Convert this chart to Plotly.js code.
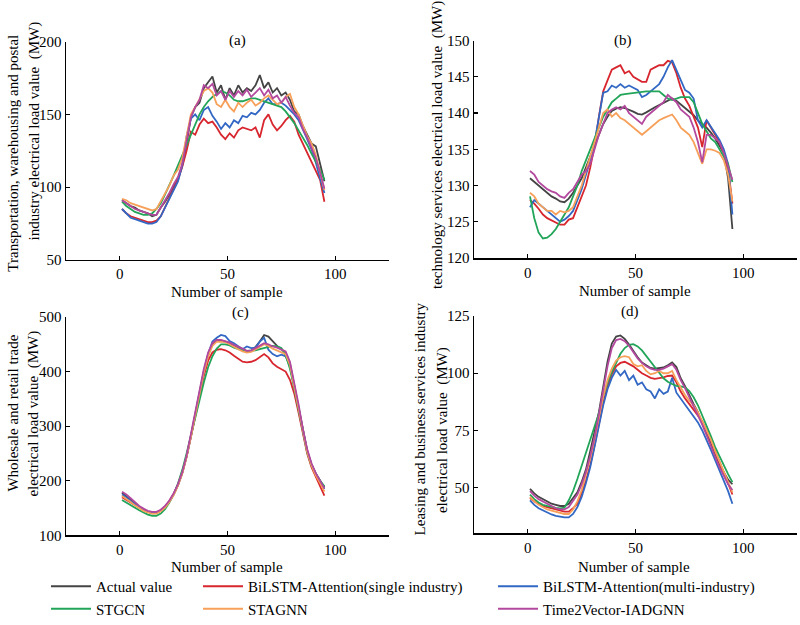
<!DOCTYPE html>
<html>
<head>
<meta charset="utf-8">
<script src="https://cdn.plot.ly/plotly-3.0.1.min.js"></script>
<style>html,body{margin:0;padding:0;background:#fff;}#chart{width:800px;height:625px;}</style>
</head>
<body>
<div id="chart"></div>
<script>
// ---------- data ----------
const samples = [1,3,5,7,9,11,13,15,17,19,21,23,25,27,29,31,33,35,37,39,41,43,45,47,49,51,53,55,57,59,61,63,65,67,69,71,73,75,77,79,81,83,85,87,89,91,93,95];

const seriesNames = ['Actual value','BiLSTM-Attention(single industry)','BiLSTM-Attention(multi-industry)','STGCN','STAGNN','Time2Vector-IADGNN'];

const panelLabels = ['(a)','(b)','(c)','(d)'];
const xTicks = [0,50,100];
const yTicksA = [50,100,150,200];
const yTicksB = [120,125,130,135,140,145,150];
const yTicksC = [100,200,300,400,500];
const yTicksD = [50,75,100,125];

// (a) Transportation, warehousing and postal
const a_actual = [91,89,87,86,84,83,82,80,81,86, 90,95,100,106,115,130,148,155,158,168, 172,176,165,170,160,168,163,170,165,168, 166,170,177,168,172,165,168,163,165,160, 152,150,142,136,130,128,115,104];
const a_single = [85,82,80,79,78,77,76,76,77,80, 86,92,98,105,114,125,138,136,143,147, 144,145,141,136,133,137,134,139,141,140, 139,141,134,146,150,143,139,142,146,149, 145,136,130,124,118,112,105,90];
const a_multi  = [85,82,79,78,77,76,75,75,76,80, 86,92,98,104,115,135,147,150,146,153, 155,149,145,140,144,141,146,144,149,148, 151,150,153,158,161,157,157,158,156,153, 150,146,140,133,126,117,106,96];
const a_stgcn  = [90,87,85,83,82,81,81,82,85,89, 95,101,108,115,122,130,137,144,150,155, 159,162,164,166,165,163,160,159,159,160, 161,161,160,159,158,157,156,155,152,148, 144,139,134,129,123,118,112,105];
const a_stagnn = [92,91,89,88,87,86,85,84,85,90, 95,101,108,112,120,135,150,155,160,166, 168,165,157,155,160,155,152,158,155,158, 160,156,158,161,163,160,157,158,162,164, 155,150,142,135,130,122,110,98];
const a_t2v    = [91,89,87,85,84,83,82,81,81,86, 90,96,102,107,116,133,148,155,160,170, 168,171,163,166,160,166,162,166,163,167, 162,165,168,163,167,161,163,158,162,156, 151,148,140,134,127,120,110,99];

// (b) technology services
const b_actual = [131,130.5,130,129.5,129,128.5,128.2,127.8,127.7,128.2, 129,130,131,132.5,134,135.5,137,138.5,139.5,140.3, 140.6,140.8,140.7,140.5,140.2,139.9,139.8,140.1,140.5,140.8, 141.1,141.4,141.8,142,141.7,141.2,140.7,140.2,139.7,139, 138.5,138,137.3,136.5,135.5,134.5,131,124];
const b_single = [128,127.5,126.8,126,125.5,125.2,124.8,124.6,124.6,125.3, 125.5,127,128.3,130,132.5,135.5,139.5,143,144.5,146, 146.3,146.6,145.5,145.8,145,144.7,144.3,144.3,146,146.3, 146.6,146.6,147.2,147,145.5,143.5,142,141,139.5,138, 135.3,139,138,137,136,134.5,132.5,127.5];
const b_multi  = [127,128,127.5,127,126.5,126,125.5,125,125.3,125.8, 126.5,128,129.5,131.5,133.5,136,139.5,142.8,143,143.8, 143.5,144,143.5,143.8,143.5,143.2,142.2,142.5,143,143.5, 144,145,146.3,147.3,146,144.5,143.2,142.8,142,139, 138,139,138,137.2,136.3,135,133,126];
const b_stgcn  = [128.5,125.5,123.5,122.7,122.8,123.3,124,125,126,127, 128.5,130,132,133.5,135,136.5,138,139.5,140.5,141.5, 142,142.5,142.6,142.7,142.8,142.9,143,143,143,143, 143,142.5,142,141.8,142,142.2,142.2,142.2,141.5,140, 138.5,137.5,136.5,136,135,134,133,130.5];
const b_stagnn = [129,128.5,127.5,127,126.5,126.5,126,126.5,126.3,126.5, 127,128.5,130,132,134,136,138,140,140.5,139.5, 140,139.3,139,138.5,138,137.5,137,137.5,138,138.5, 139,139.3,139.5,139.8,139,138,137.5,137,136,134.5, 133,135,135,134.8,134.5,133.5,131.5,127.8];
const b_t2v    = [132,131.5,130.5,130,129.5,129.2,129,128.5,128.3,129, 129.5,130.5,131.5,132,133,135,137,138.5,140,140.5, 140.8,140.5,141,140,139.5,139,138.5,139.5,140,140.5, 141,141.5,142.5,142,141.5,140.5,140,139.5,138,136, 133.2,137,137,136.5,136,134.5,132.5,130.8];

// (c) Wholesale and retail trade
const c_actual = [178,172,165,158,152,147,143,141,141,145, 152,162,175,192,215,245,282,322,360,400, 430,450,458,457,455,452,448,444,440,437, 438,445,455,467,464,455,447,441,435,415, 375,335,290,255,230,213,200,188];
const c_single = [170,165,160,155,150,146,143,141,142,146, 153,163,176,193,215,244,280,318,355,392, 420,435,440,441,439,435,429,423,418,417, 418,421,427,432,426,415,409,405,400,385, 360,325,285,250,225,207,192,173];
const c_multi  = [175,170,163,157,151,146,143,141,141,145, 152,162,175,192,214,244,281,320,360,400, 432,455,462,467,465,456,452,446,441,446, 443,444,455,462,440,432,428,431,428,410, 372,332,290,255,230,213,200,185];
const c_stgcn  = [165,160,155,150,146,142,138,136,136,140, 148,160,175,195,220,250,283,318,350,380, 408,428,442,450,450,448,444,441,439,438, 438,439,441,443,445,447,446,443,430,405, 370,330,288,252,228,212,200,190];
const c_stagnn = [172,167,161,155,150,145,142,140,140,144, 151,161,174,191,213,243,280,320,360,398, 428,447,455,455,454,450,445,441,437,435, 436,440,445,450,447,442,439,436,432,412, 372,333,290,253,228,210,196,180];
const c_t2v    = [180,175,168,161,154,149,145,143,143,147, 154,164,177,194,216,246,284,325,365,405, 435,452,458,458,456,453,449,446,442,438, 439,443,447,452,450,446,444,441,437,418, 380,340,295,258,232,214,200,186];

// (d) Leasing and business services
const d_actual = [49.5,47.5,46,45,44,43,42.5,42,42,43, 45.5,48,52.5,58,66,74,83,94,105,113, 116,116.5,115,112.5,109.5,107,104.7,103.3,102.3,102, 102.2,102.5,103.5,104.7,102.7,97.8,94.3,90,86.5,83, 78,74,69,64.5,60,56.5,53.5,51.5];
const d_single = [45.5,44,43,42,41.5,41,40.5,40,39.5,39.5, 41,43,47.5,53,60,68.5,78,87,94,99.5, 103,104.5,105,104,103,101.5,100,99,98,97.5, 97.8,98.2,98.8,99,96,92,89,86.5,84.5,82, 79,75,71,66,61.5,57,52,47];
const d_multi  = [44.5,42.5,41,40,39,38.3,37.7,37.2,37,37, 38.5,41.5,46,52,59,68,77.5,86,93,98, 101.5,99,101,97,99,95,96,93,92,89, 93,91,92,98,91.5,89,86.5,84,81.5,78.5, 75,71,66.5,62,57.5,53,48.5,43];
const d_stgcn  = [47,45,43.5,42.5,42,41.5,41.2,41,41.3,44.5, 48.5,53.8,59.5,65,70.5,76,82.5,90,96,100.5, 104.7,108.5,111,112.4,112.7,111.7,110,107.5,104.7,102.3, 100.2,97.8,96.3,95.3,94.5,94.3,93.8,92.2,89.5,86, 81.7,77,72.5,67.7,63.5,59.5,55.9,52.4];
const d_stagnn = [46,44,42.5,41.5,40.5,40,39.5,39,38.5,38.5, 40.5,44,49,56,63,71.5,81,90,97,102, 105.5,107,107.5,107,104,103,103.5,101,99.5,100, 101,100,100,101,97,93.5,90.5,88,86,83, 79,75,71,66,61.5,57,52,48];
const d_t2v    = [48.5,46.5,45,44,43,42,41,40.5,40.5,41.5, 44,47,51.5,57,64,72,82,92,103,111, 114.5,115,114,112,109,106.5,104.5,103,102,101.5, 101.5,102,103,104,101.5,97,93.5,89.5,86,82, 77.5,73,68,63.5,59,55,51.5,49];

// ---------- styling ----------
const FONT = 'Liberation Serif, Times New Roman, serif';
const colors = ['#444444','#d7262e','#3268c4','#22a559','#f7a05a','#b3499e'];
const legendOf = ['legend','legend2','legend3','legend','legend2','legend3'];

const panels = [
  {xa:'x',  ya:'y',  data:[a_actual,a_single,a_multi,a_stgcn,a_stagnn,a_t2v]},
  {xa:'x2', ya:'y2', data:[b_actual,b_single,b_multi,b_stgcn,b_stagnn,b_t2v]},
  {xa:'x3', ya:'y3', data:[c_actual,c_single,c_multi,c_stgcn,c_stagnn,c_t2v]},
  {xa:'x4', ya:'y4', data:[d_actual,d_single,d_multi,d_stgcn,d_stagnn,d_t2v]}
];

const traces = [];
panels.forEach((p, pi) => {
  p.data.forEach((vals, si) => {
    traces.push({
      type:'scatter', mode:'lines', x: samples, y: vals,
      xaxis:p.xa, yaxis:p.ya, name: seriesNames[si],
      line:{color:colors[si], width:1.8},
      showlegend: pi === 0, legend: legendOf[si], hoverinfo:'skip'
    });
  });
});

const W = 800, H = 625;
function xd(l, r){ return [l/W, r/W]; }
function yd(t, b){ return [1 - b/H, 1 - t/H]; }

const axBase = {
  showline:true, linecolor:'#000', linewidth:1.5, ticks:'inside', ticklen:4,
  tickcolor:'#000', tickwidth:1.2, showgrid:false, zeroline:false, mirror:false,
  tickfont:{family:FONT, size:15, color:'#000'}, fixedrange:true
};
function xa(dom, anchor){ return Object.assign({}, axBase, {domain:dom, anchor:anchor, range:[-25,125], tickvals:xTicks, tickmode:'array'}); }
function ya(dom, anchor, range, ticks){ return Object.assign({}, axBase, {domain:dom, anchor:anchor, range:range, tickvals:ticks, tickmode:'array'}); }

function ann(text, x, y, opts){
  return Object.assign({text:text, x:x/W, y:1-y/H, xref:'paper', yref:'paper', showarrow:false,
    xanchor:'center', yanchor:'middle', font:{family:FONT, size:15, color:'#000'}}, opts||{});
}

const annotations = [
  ann(panelLabels[0], 237, 42), ann(panelLabels[1], 623, 42),
  ann(panelLabels[2], 240, 323), ann(panelLabels[3], 630, 322),
  ann('Number of sample', 227, 302), ann('Number of sample', 635, 301),
  ann('Number of sample', 227, 587), ann('Number of sample', 634, 587),
  ann('Transportation, warehousing and postal', 13, 159, {textangle:-90}),
  ann('industry electrical load value  (MW)', 34, 136, {textangle:-90}),
  ann('technology services electrical load value  (MW)', 438, 150, {textangle:-90}),
  ann('Wholesale and retail trade', 13, 428, {textangle:-90}),
  ann('electrical load value  (MW)', 34, 428, {textangle:-90}),
  ann('Leasing and business services industry', 420, 434, {textangle:-90}),
  ann('electrical load value  (MW)', 442, 445, {textangle:-90})
];

const legBase = {orientation:'v', xanchor:'left', yanchor:'top', bgcolor:'rgba(0,0,0,0)',
  font:{family:FONT, size:15, color:'#000'}, traceorder:'normal', tracegroupgap:0, itemwidth:40};

const layout = {
  width:W, height:H, paper_bgcolor:'#fff', plot_bgcolor:'#fff',
  margin:{l:0, r:0, t:0, b:0}, showlegend:true,
  xaxis: xa(xd(66,389), 'y'),
  yaxis: ya(yd(43,269), 'x', [50,200], yTicksA),
  xaxis2: xa(xd(474,797), 'y2'),
  yaxis2: ya(yd(42,267), 'x2', [120,150], yTicksB),
  xaxis3: xa(xd(66,389), 'y3'),
  yaxis3: ya(yd(328,554), 'x3', [100,500], yTicksC),
  xaxis4: xa(xd(474,797), 'y4'),
  yaxis4: ya(yd(327,552), 'x4', [30,125], yTicksD),
  legend: Object.assign({}, legBase, {x:46/W, y:1-590/H}),
  legend2: Object.assign({}, legBase, {x:198/W, y:1-590/H}),
  legend3: Object.assign({}, legBase, {x:493/W, y:1-590/H}),
  annotations: annotations
};

Plotly.newPlot('chart', traces, layout, {staticPlot:true, displayModeBar:false});
</script>
</body>
</html>
